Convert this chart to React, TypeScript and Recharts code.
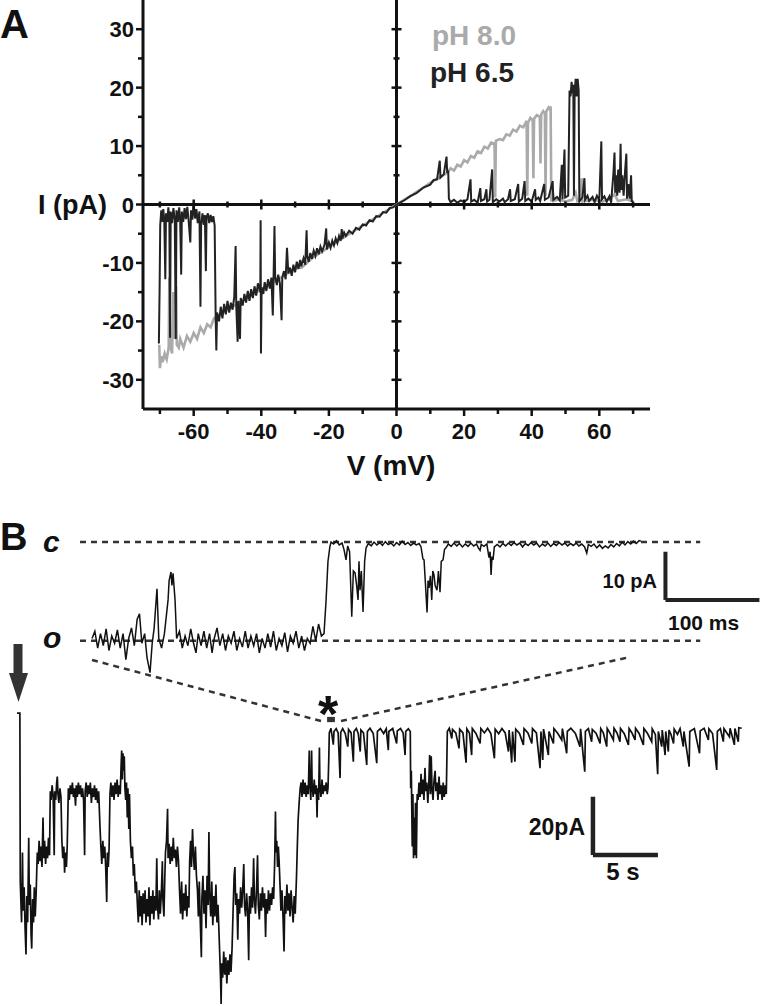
import { LineChart, Line, XAxis, YAxis, ReferenceLine, ReferenceDot, ReferenceArea } from "recharts";

const INK = "#111";
const GRAY = "#aaa";
const FONT = '"Liberation Sans", Arial, Helvetica, sans-serif';

// ---- panel A: I-V ramps (V in mV, I in pA) ----
const vTicks = [-70, -60, -50, -40, -30, -20, -10, 0, 10, 20, 30, 40, 50, 60, 70];
const vLabels = [-60, -40, -20, 0, 20, 40, 60];
const iTicks = [-30, -25, -20, -15, -10, -5, 0, 5, 10, 15, 20, 25, 30];
const iLabels = [-30, -20, -10, 0, 10, 20, 30];

const ph80: [number, number][] = [
  [-70.2, -24], [-70, -28], [-69.6, -26], [-69.2, -27], [-68.6, -25.5], [-68, -26.5], [-67.4, -24.5],
  [-67.2, -12.5], [-67, -24], [-66.4, -25.5], [-66, -15], [-65.8, -23], [-65.2, -14], [-65, -24],
  [-64.4, -24.5], [-64, -23], [-63, -24.5], [-62, -22.5], [-61, -23.5], [-60, -22], [-59, -23],
  [-58, -21], [-57, -22], [-56, -20.5], [-55, -21], [-54, -19.5], [-50, -18], [-45, -16.3],
  [-40, -14.5], [-35, -12.8], [-30, -11], [-28, -10.8], [-25, -9.2], [-20, -7.3], [-15, -5.4],
  [-10, -3.6], [-5, -1.8], [0, 0], [5, 1.8], [10, 3.7], [15, 5.4], [16, 6.2], [17, 5.8], [18, 6.8],
  [19, 6.5], [20, 7.6], [21, 7.2], [22, 8.3], [23, 8], [24, 9.1], [25, 8.8], [26, 9.9], [27, 9.6],
  [28, 10.6], [29, 10.4], [29.2, 1.2], [29.4, 10.9], [30.5, 11.2], [31.5, 11], [32.5, 12], [33.5, 11.8],
  [34.5, 12.8], [35.5, 12.5], [36.5, 13.5], [37.5, 13.2], [38.5, 14.3], [38.7, 1.5], [38.9, 14],
  [39.6, 14.8], [40.3, 14.4], [40.5, 4.5], [40.7, 14.7], [41.5, 15.3], [42.4, 15], [42.6, 7],
  [42.8, 15.4], [43.4, 16], [43.9, 15.6], [44.1, 1.5], [44.3, 15.9], [45, 16.6], [45.5, 16.2],
  [45.6, 16.8], [45.8, 0.5], [46.2, 2.2], [46.5, 0.6], [48, 0.9], [50, 0.5], [52, 0.8], [53, 2],
  [53.5, 0.6], [54.6, 1], [54.8, 4.5], [55, 0.5], [58, 0.8], [61, 0.5], [63, 0.9], [64.5, 1.8],
  [65.5, 0.6], [68, 0.9], [70, 0.5],
];

const ph65: [number, number][] = [
  [-70.3, -23.8], [-70.1, -15], [-69.9, -3.5], [-69.6, -1], [-69.3, -3], [-69, -0.8], [-68.7, -2.8],
  [-68.4, -12.8], [-68.2, -1.5], [-67.8, -3], [-67.5, -0.5], [-67.2, -2.5], [-67, -22.8], [-66.8, -1.2],
  [-66.4, -3.2], [-66, -0.6], [-65.6, -2.6], [-65.3, -23], [-65.1, -1], [-64.7, -3], [-64.3, -0.5],
  [-64, -2.8], [-63.7, -12], [-63.5, -1.2], [-63.1, -3], [-62.7, -0.6], [-62.3, -2.5], [-61.9, -0.4],
  [-61.5, -2.8], [-61, -6.5], [-60.8, -1], [-60.4, -2.6], [-60, 0.3], [-59.6, -2.4], [-59.2, -0.8],
  [-58.8, -3.2], [-58.3, -1.2], [-58, -17.5], [-57.8, -3.5], [-57.4, -1.5], [-57, -3.5], [-56.7, -1.8],
  [-56.4, -11.4], [-56.2, -2.2], [-55.8, -1.5], [-55.4, -3.2], [-55, -1.8], [-54.6, -3], [-54.2, -2],
  [-53.8, -3.6], [-53.5, -19.5], [-53.3, -25], [-53.1, -18.5], [-52.5, -20], [-52, -17.5],
  [-51.5, -19.5], [-51, -17], [-50.5, -18.8], [-50, -16.5], [-49.5, -18.5], [-49, -16.8], [-48.5, -18],
  [-48, -15.8], [-47.6, -7.1], [-47.4, -17.5], [-47, -23.5], [-46.8, -16.5], [-46.3, -23], [-46.1, -16],
  [-45.5, -17.3], [-45, -15.3], [-44.5, -16.8], [-44, -14.8], [-43.5, -16.5], [-43, -14.5], [-42.5, -16],
  [-42, -14], [-41.5, -15.6], [-41, -13.5], [-40.3, -15], [-40.2, -2.7], [-40.1, -25.5], [-39.9, -14.2],
  [-39.4, -15.3], [-39, -13.3], [-38.5, -14.8], [-38, -12.8], [-37.5, -14.4], [-37, -12.5], [-36.6, -19],
  [-36.4, -13.5], [-36.1, -3.7], [-35.9, -12.3], [-35.4, -13.8], [-35, -12], [-34.5, -13.5], [-34, -19.8],
  [-33.8, -12.5], [-33.3, -11.4], [-32.8, -12.8], [-32.4, -7.4], [-32, -11.8], [-31.5, -10.8],
  [-31, -12.2], [-30.5, -10.3], [-30, -11.6], [-29.5, -9.8], [-29, -11], [-28.5, -9.5], [-28.2, -10.6],
  [-27.5, -9.2], [-27, -10.3], [-26.6, -4.4], [-26.4, -8.8], [-26, -9.8], [-25.5, -8.3], [-25, -9.3],
  [-24.5, -7.9], [-24, -8.8], [-23.5, -7.5], [-23, -8.5], [-22.5, -7.2], [-22, -8], [-21.3, -6.9],
  [-20.8, -4.1], [-20.6, -7.7], [-20, -6.5], [-19.5, -7.4], [-19, -6.2], [-18.5, -7], [-18, -5.8],
  [-17.5, -6.6], [-17, -5.4], [-16.5, -6.2], [-16.2, -4.2], [-16, -5.8], [-15.5, -4.8], [-15, -5.4],
  [-14, -4.5], [-13, -5], [-12, -4], [-11, -4.3], [-10, -3.4], [-9, -3.6], [-8, -2.7], [-7, -2.9],
  [-6, -2], [-5, -2.1], [-4, -1.3], [-3, -1.4], [-2, -0.6], [-1, -0.5], [0, 0], [2, 0.6], [4, 1.4],
  [6, 2], [8, 2.9], [10, 3.4], [11, 4.2], [12, 4.3], [12.8, 7.5], [13, 4.6], [14, 5.2], [14.8, 8.2],
  [15, 5.4], [15.3, 5.8], [15.5, 1], [16, 0.4], [17, 0.8], [18, 0.3], [19, 0.7], [20, 0.4], [21, 0.9],
  [21.9, 4.3], [22.1, 0.5], [23, 0.8], [24, 0.3], [24.8, 2.8], [25, 0.6], [26, 0.9], [26.6, 2.6],
  [26.8, 0.5], [27.5, 0.8], [28.3, 6], [28.5, 0.4], [29.5, 0.9], [30.5, 0.5], [31.5, 1], [32, 0.4],
  [33, 0.9], [33.6, 2.6], [33.8, 0.6], [35, 0.9], [36, 3.5], [36.2, 0.5], [37.2, 1], [37.9, 4],
  [38.1, 0.6], [39, 1], [40, 0.5], [41, 2.6], [41.2, 0.8], [42, 1.2], [42.5, 0.6], [43.7, 3.5],
  [43.9, 0.8], [45, 1.2], [46.2, 4], [46.4, 0.8], [47.5, 1.3], [48.3, 0.7], [48.9, 6.8], [49.1, 0.9],
  [49.7, 9.4], [49.9, 1.2], [50.8, 1.5], [51.2, 19.5], [51.5, 18.5], [51.8, 21], [52.1, 19], [52.3, 20.5],
  [52.5, 1.5], [52.7, 19], [53, 21.5], [53.3, 18.5], [53.6, 21.5], [53.9, 19.5], [54.1, 0.5], [55, 1.2],
  [55.6, 4.5], [55.8, 0.8], [56.5, 1.5], [57, 0.6], [58, 1.3], [58.6, 0.4], [59.3, 1.5], [60, 0.7],
  [60.6, 10.8], [60.8, 0.9], [61.5, 1.4], [62.2, 0.5], [63, 1.4], [63.5, 0.3], [64.2, 5.5], [64.5, 8.9],
  [64.7, 2], [65, 5], [65.3, 1.5], [65.6, 6], [66, 2], [66.3, 10.4], [66.5, 2.5], [66.8, 5], [67.2, 1.5],
  [67.6, 5.5], [68, 8.7], [68.2, 1], [68.6, 3.5], [69, 1], [69.4, 5], [69.6, 0.6], [70, 0.5],
];

// ---- panel B: expanded sweep (t in ms, I in pA) ----
const closedLevel = 0;
const openLevel = -20.5;
const zoomTrace: [number, number][] = [
  [0, -20], [3, -18.5], [6, -22], [9, -19], [12, -21.5], [15, -18], [18, -22.5], [21, -19.5], [24, -21],
  [27, -18.2], [30, -22], [33, -19], [36, -24.4], [39, -20], [42, -17.8], [45, -21.5], [48, -16],
  [50.5, -14.9], [53, -21], [56, -19], [58.5, -24], [61.7, -27.1], [64, -21], [66, -18], [69.1, -9.7],
  [71, -20], [74, -22], [77, -19], [80.9, -12], [82, -8], [84, -6.2], [85, -9], [86.2, -6.5], [88.3, -12],
  [90, -20], [93, -18.5], [96, -22], [99, -19.5], [102, -21.5], [105, -18], [108, -21], [110.6, -23],
  [113, -19], [116, -21.5], [119, -18.5], [122, -22], [125, -19], [127.7, -23], [130, -20], [133, -17.8],
  [136, -21.5], [139, -19], [142, -22.5], [145, -19.5], [148, -21], [151, -18.5], [154, -22.5], [157, -20],
  [160, -21.8], [163, -18.5], [166, -22], [169, -19.5], [172, -21.5], [175, -19], [178, -23], [181, -20],
  [184, -22], [187, -19], [190, -21.8], [193, -18.5], [196, -22.5], [199, -20], [202, -21.5], [205, -18.8],
  [208, -22.8], [211, -19.5], [214, -21], [217, -18.5], [220, -22], [223, -19.5], [226, -22.5], [229, -20],
  [232, -21], [235, -17.5], [238, -20.5], [241, -17], [244, -19.5], [246.8, -19], [249, -12], [251, -4],
  [253, -1], [254.3, 0], [257, -0.4], [260, 0.3], [263, -0.6], [266, -0.2], [268, -1.5], [270.2, -3.7],
  [272, -0.8], [274, -2], [276.3, -15.5], [278, -6], [279.8, -6.4], [281.5, -9], [283, -12], [284, -4],
  [285.1, -10], [286.5, -6], [288.3, -14.5], [290, -4], [291.5, -1.2], [294, -0.3], [297, -0.8], [300, 0],
  [303, -0.6], [306, -0.1], [309, -0.7], [312, 0.1], [315, -0.5], [318, -0.2], [321, -0.8], [324, -0.1],
  [327, -0.6], [330, 0.2], [333, -0.5], [336, -0.1], [339, -0.7], [342, -0.2], [345, -0.6], [348, -0.3],
  [350, -1], [352, -3.5], [353.2, -3.7], [354.5, -8], [356.4, -14.6], [357.5, -8], [358.5, -9.5], [360, -7],
  [361.4, -12], [362.5, -6], [363.8, -6.8], [365, -9], [367, -10], [368.5, -6], [370.2, -10.4],
  [371.5, -4], [373.4, -3.7], [375, -1.5], [376.6, -1.2], [379, -0.4], [382, -0.9], [385, -0.2],
  [388, -0.8], [391, -0.3], [394, -1], [397, -0.4], [400, -0.9], [403, -0.2], [406, -0.8], [409, -0.4],
  [411, -1.2], [412.8, -1.7], [414, -0.5], [417, -0.9], [420, -0.4], [422.3, -3.2], [423.5, -2],
  [424.5, -6.8], [425.5, -3], [426.6, -3.7], [428, -1], [431, -0.5], [434, -1], [437, -0.3], [440, -0.8],
  [443, -0.2], [446, -0.7], [449, -0.1], [452, -0.6], [455, -0.2], [458, -1], [461, -0.3], [464, -0.7],
  [467, -0.1], [470, -0.6], [473, -0.2], [476, -1], [479, -0.4], [482, -0.8], [485, -0.2], [488, -0.9],
  [491, -0.3], [494, -0.7], [497, -0.1], [500, -0.6], [503, -0.2], [506, -0.8], [509, -0.3], [512, -0.7],
  [515, -0.2], [518, -0.8], [521, -0.4], [524, -1], [526.3, -2.3], [528, -0.5], [531, -0.9], [534, -0.4],
  [537, -1.2], [540, -0.6], [543, -1.3], [546, -0.8], [549, -1.2], [552, -0.5], [555, -1], [558, -0.3],
  [561, -0.8], [564, 0], [567, -0.6], [570, 0.1], [573, -0.4], [576, 0.2], [579, -0.3], [582, 0.3],
  [584, 0.2],
];

// ---- panel B: full record (t in s, I in pA) ----
const longTrace: [number, number][] = [
  [0, 5.8], [0.22, 5.8], [0.25, -52], [0.35, -66], [0.42, -42], [0.47, -62], [0.55, -54], [0.62, -68],
  [0.69, -77], [0.75, -57], [0.82, -66], [0.9, -37], [0.95, -60], [1.02, -53], [1.08, -70], [1.13, -75],
  [1.2, -58], [1.27, -66], [1.33, -54], [1.4, -64], [1.47, -56], [1.52, -48],
  [1.56, -42], [1.62, -46], [1.7, -38], [1.77, -45], [1.84, -40], [1.92, -47], [2, -30], [2.05, -44],
  [2.12, -38], [2.2, -46], [2.27, -40], [2.35, -44], [2.42, -37], [2.5, -43],
  [2.56, -21], [2.62, -24], [2.7, -19], [2.78, -23], [2.86, -43], [2.9, -21], [2.98, -24], [3.05, -18],
  [3.1, -16], [3.15, -22], [3.22, -25], [3.3, -20], [3.38, -23],
  [3.45, -38], [3.52, -44], [3.6, -40], [3.66, -49], [3.72, -42], [3.8, -47], [3.86, -40],
  [3.95, -20], [4.02, -24], [4.1, -19], [4.18, -22], [4.26, -18], [4.34, -23], [4.42, -20], [4.5, -26],
  [4.56, -19], [4.64, -23], [4.72, -18], [4.8, -22], [4.88, -19], [4.96, -23], [5.04, -20], [5.12, -24],
  [5.2, -43], [5.24, -21], [5.32, -18], [5.4, -23], [5.48, -19], [5.56, -22], [5.64, -18], [5.72, -25],
  [5.8, -20], [5.88, -23], [5.96, -19], [6.04, -24], [6.12, -20], [6.2, -25], [6.28, -21],
  [6.38, -33], [6.45, -40], [6.52, -46], [6.6, -38], [6.68, -44], [6.75, -40], [6.82, -47], [6.9, -59],
  [6.95, -42], [7.02, -47], [7.08, -41],
  [7.15, -22], [7.22, -18], [7.3, -23], [7.38, -19], [7.46, -24], [7.54, -18], [7.62, -22], [7.7, -17],
  [7.78, -23], [7.86, -19], [7.94, -22], [8, -13], [8.05, -7], [8.1, -17], [8.15, -8], [8.2, -14],
  [8.25, -9], [8.3, -20], [8.36, -24], [8.42, -18], [8.48, -30], [8.53, -20], [8.6, -34], [8.65, -22],
  [8.72, -38], [8.8, -44], [8.88, -40], [8.95, -50], [9.02, -46], [9.1, -56], [9.18, -52],
  [9.26, -60], [9.33, -66], [9.4, -55], [9.48, -64], [9.55, -57], [9.62, -67], [9.7, -56], [9.78, -63],
  [9.85, -55], [9.92, -66], [10, -58], [10.08, -64], [10.15, -54], [10.22, -67], [10.3, -57], [10.38, -63],
  [10.45, -55], [10.52, -65], [10.6, -57], [10.68, -62], [10.75, -44], [10.8, -60], [10.88, -65],
  [10.95, -55], [11.02, -63], [11.1, -56], [11.18, -45], [11.22, -58], [11.3, -64], [11.36, -52],
  [11.42, -42], [11.5, -38], [11.58, -27], [11.62, -44], [11.7, -39], [11.78, -46], [11.86, -40],
  [11.94, -45], [12.02, -37], [12.1, -44], [12.18, -41], [12.26, -47], [12.34, -40], [12.42, -45],
  [12.5, -55], [12.58, -63], [12.66, -52], [12.74, -65], [12.82, -56], [12.9, -62], [12.98, -53],
  [13.06, -64], [13.14, -57], [13.22, -61],
  [13.28, -45], [13.35, -38], [13.42, -47], [13.5, -34], [13.56, -42], [13.64, -48], [13.72, -40], [13.8, -50],
  [13.88, -55], [13.95, -64], [14.02, -52], [14.1, -66], [14.18, -78], [14.22, -58], [14.3, -50],
  [14.38, -63], [14.46, -55], [14.54, -68], [14.62, -50], [14.7, -60], [14.76, -35], [14.82, -56],
  [14.9, -64], [14.98, -52], [15.06, -67], [15.14, -57], [15.22, -64], [15.3, -53], [15.38, -66],
  [15.46, -60], [15.54, -70],
  [15.6, -78], [15.66, -86], [15.7, -94], [15.74, -80], [15.82, -85], [15.9, -76], [15.98, -84],
  [16.06, -78], [16.14, -87], [16.22, -79], [16.3, -84], [16.38, -77], [16.46, -83], [16.54, -75],
  [16.62, -62], [16.7, -50], [16.76, -47], [16.82, -60], [16.9, -56], [16.98, -72], [17.04, -58],
  [17.12, -63], [17.2, -54], [17.28, -61], [17.36, -55], [17.44, -46], [17.5, -60], [17.58, -64],
  [17.66, -56], [17.74, -62], [17.82, -79], [17.88, -57], [17.96, -63], [18.04, -54], [18.12, -61],
  [18.2, -44], [18.26, -58], [18.34, -63], [18.42, -55], [18.5, -43], [18.56, -60], [18.64, -65],
  [18.72, -56], [18.8, -62], [18.88, -54], [18.96, -61], [19.04, -56], [19.12, -71], [19.18, -58],
  [19.26, -63], [19.34, -55], [19.42, -62], [19.5, -56], [19.58, -60], [19.66, -54], [19.74, -58],
  [19.82, -45], [19.88, -28], [19.92, -42], [19.98, -38], [20.04, -47], [20.1, -40], [20.16, -45],
  [20.22, -52], [20.3, -62], [20.38, -55], [20.46, -64], [20.54, -76], [20.6, -57], [20.68, -63],
  [20.76, -53], [20.84, -62], [20.92, -56], [21, -64], [21.08, -55], [21.16, -61], [21.24, -66],
  [21.32, -57], [21.4, -63],
  [21.5, -50], [21.56, -40], [21.62, -31], [21.7, -25],
  [21.78, -20], [21.85, -18], [21.92, -23], [22, -17], [22.08, -22], [22.16, -18], [22.24, -23],
  [22.32, -19], [22.4, -22], [22.48, -7], [22.52, -18], [22.6, -24], [22.66, -7], [22.7, -19],
  [22.78, -23], [22.86, -17], [22.94, -22], [23.02, -19], [23.08, -30], [23.12, -20], [23.2, -24],
  [23.26, -6], [23.3, -19], [23.38, -23], [23.46, -17], [23.54, -22], [23.62, -19], [23.7, -21],
  [23.78, -18], [23.86, -22], [23.92, -20], [23.98, -10],
  [24.02, -1], [24.15, 0.6], [24.33, -5], [24.38, -0.5], [24.55, 0.5], [24.7, -1], [24.85, -16.5],
  [24.9, -0.8], [25.05, 0.5], [25.25, -1.2], [25.44, -5.7], [25.5, 0.2], [25.7, -1], [25.87, -10.9],
  [25.92, -0.5], [26.1, 0.5], [26.25, -1.3], [26.4, -7.4], [26.45, 0], [26.65, -1], [26.9, -12],
  [26.95, -0.5], [27.15, 0.6], [27.4, -1.2], [27.67, -11.4], [27.72, -0.5], [27.95, 0.5], [28.2, -1.2],
  [28.4, 0.4], [28.56, -6.9], [28.6, -0.5], [28.9, 0.5], [29.2, -4.6], [29.25, -0.3], [29.5, 0.5],
  [29.7, -1], [29.85, -8.6], [29.9, -0.5], [30.1, 0.4], [30.25, -0.5],
  [30.28, -20], [30.33, -14], [30.4, -40], [30.45, -22], [30.5, -44], [30.55, -30], [30.6, -43],
  [30.65, -25], [30.72, -44], [30.78, -22],
  [30.85, -24], [30.92, -18], [31, -23], [31.08, -15], [31.14, -22], [31.22, -17], [31.3, -24],
  [31.38, -13], [31.44, -21], [31.52, -18], [31.6, -25], [31.68, -18], [31.74, -8.6], [31.8, -22],
  [31.86, -9], [31.92, -20], [32, -24], [32.08, -17], [32.16, -14], [32.22, -21], [32.3, -18],
  [32.38, -24], [32.46, -16], [32.54, -22], [32.62, -19], [32.7, -24], [32.78, -18], [32.86, -23],
  [32.94, -19], [33.02, -22],
  [33.1, -0.5], [33.25, 0.6], [33.44, -2.9], [33.5, 0.2], [33.75, -1], [34, -6.3], [34.05, 0.3],
  [34.3, -1], [34.54, -11.2], [34.6, 0.4], [34.8, -1], [34.97, -8.6], [35.02, 0.5], [35.3, -1.2],
  [35.62, -4.6], [35.68, 0.5], [35.95, -1], [36.2, 0.6], [36.45, -1.2], [36.72, -9.7], [36.78, 0.3],
  [37.05, -1.3], [37.3, 0.5], [37.55, -1], [37.8, -7.4], [37.85, 0], [38.05, -11.2], [38.12, -0.5],
  [38.3, -10.9], [38.36, 0.3], [38.65, -1.2], [38.95, -5.1], [39, 0.5], [39.3, -1], [39.6, -4.6],
  [39.65, 0.5], [39.95, -1], [40.23, -13.1], [40.3, -0.5], [40.44, -10.3], [40.5, 0.3], [40.87, -8.6],
  [40.92, -0.5], [41.26, -4.6], [41.3, 0.5], [41.6, -1.2], [41.9, -3.4], [41.95, 0.5], [42.28, -8],
  [42.33, -0.5], [42.6, 0.6], [42.95, -1.2], [43.3, -5.7], [43.35, 0.4], [43.67, -14.3], [43.72, -0.5],
  [43.95, 0.5], [44.2, -4], [44.25, 0.2], [44.55, -1.2], [44.85, -4.6], [44.9, 0.5], [45.1, -1],
  [45.36, -5.7], [45.4, 0.5], [45.6, -1], [45.87, -3.4], [45.92, 0.6], [46.15, -1], [46.38, -4],
  [46.42, 0.5], [46.7, -1.2], [47.03, -5.1], [47.08, 0.5], [47.3, -1], [47.54, -3.4], [47.58, 0.6],
  [47.85, -1.2], [48.18, -5.1], [48.22, 0.5], [48.5, -1.2], [48.82, -4], [48.86, 0.4], [49.1, -1.5],
  [49.28, -15.2], [49.33, -0.5], [49.59, -5.7], [49.63, 0], [49.85, -8.6], [49.9, -0.5], [50.1, -7.4],
  [50.15, 0], [50.3, -1.5], [50.5, -4.6], [50.55, 0.3], [50.8, -1.5], [51, 0.5], [51.25, -5.7],
  [51.3, -0.5], [51.7, -12.6], [51.75, -0.5], [52.1, 0.5], [52.5, -8], [52.55, -0.3], [52.85, 0.6],
  [53.18, -3.4], [53.22, 0.4], [53.5, -1.2], [53.82, -13.7], [53.87, -0.5], [54.1, 0.5], [54.33, -4],
  [54.38, 0.5], [54.6, -1], [54.8, -2.3], [54.85, 0.6], [55.18, -5.1], [55.22, 0.5], [55.48, -4],
  [55.52, 0.8], [55.74, 0.6],
];

// expanded window marked on the long record (s)
const zoomWindow = [23.85, 24.45];

const toVI = (rows: [number, number][]) => rows.map(([v, i]) => ({ v, i }));
const toTI = (rows: [number, number][]) => rows.map(([t, i]) => ({ t, i }));

const VTick = (props: any) => {
  const { x, y, payload } = props;
  const major = vLabels.includes(payload.value);
  return (
    <g>
      <line x1={x} x2={x} y1={y} y2={y + (major ? 7 : 5)} stroke={INK} strokeWidth={2.5} />
      {major && (
        <text x={x} y={y + 30} textAnchor="middle" fontSize={22} fontWeight="bold" fill={INK}>
          {payload.value}
        </text>
      )}
    </g>
  );
};

const ITick = (props: any) => {
  const { x, y, payload } = props;
  const major = iLabels.includes(payload.value);
  return (
    <g>
      <line x1={x} x2={x - (major ? 7 : 5)} y1={y} y2={y} stroke={INK} strokeWidth={2.5} />
      {major && (
        <text x={x - 9} y={y + 8} textAnchor="end" fontSize={22} fontWeight="bold" fill={INK}>
          {payload.value}
        </text>
      )}
    </g>
  );
};

const crossTickV = (len: number) => (p: any) => (
  <line x1={p.cx} x2={p.cx} y1={p.cy - len} y2={p.cy + len} stroke={INK} strokeWidth={2.5} />
);
const crossTickH = (len: number) => (p: any) => (
  <line x1={p.cx - len} x2={p.cx + len} y1={p.cy} y2={p.cy} stroke={INK} strokeWidth={2.5} />
);

function IVPanel() {
  return (
    <LineChart width={760} height={480} margin={{ top: 0, right: 110, bottom: 41, left: 83 }}>
      <XAxis
        type="number"
        dataKey="v"
        domain={[-75, 75]}
        ticks={vTicks}
        interval={0}
        tickSize={0}
        tickMargin={0}
        tickLine={false}
        tick={VTick}
        axisLine={{ stroke: INK, strokeWidth: 3 }}
        height={30}
        allowDataOverflow
      />
      <YAxis
        type="number"
        domain={[-35, 35]}
        ticks={iTicks}
        interval={0}
        tickSize={0}
        tickMargin={0}
        tickLine={false}
        tick={ITick}
        axisLine={{ stroke: INK, strokeWidth: 3 }}
        width={60}
        allowDataOverflow
      />
      <ReferenceLine x={0} stroke={INK} strokeWidth={3} />
      <ReferenceLine y={0} stroke={INK} strokeWidth={3} />
      {vTicks.filter((v) => v !== 0).map((v) => (
        <ReferenceDot key={"h" + v} x={v} y={0} r={1} shape={crossTickV(vLabels.includes(v) ? 5 : 3)} />
      ))}
      {iTicks.filter((i) => i !== 0).map((i) => (
        <ReferenceDot key={"v" + i} x={0} y={i} r={1} shape={crossTickH(iLabels.includes(i) ? 5 : 3)} />
      ))}
      <Line data={toVI(ph80)} dataKey="i" stroke={GRAY} strokeWidth={2.6} dot={false} isAnimationActive={false} />
      <Line data={toVI(ph65)} dataKey="i" stroke="#222" strokeWidth={2} dot={false} isAnimationActive={false} />
    </LineChart>
  );
}

function ZoomPanel() {
  return (
    <LineChart width={760} height={200} margin={{ top: 18, right: 0, bottom: 23, left: 80 }}>
      <XAxis type="number" dataKey="t" domain={[-12.8, 710.6]} hide allowDataOverflow />
      <YAxis type="number" domain={[-28, 5]} hide allowDataOverflow />
      <ReferenceLine segment={[{ x: -12.8, y: closedLevel }, { x: 647, y: closedLevel }]} stroke="#333" strokeWidth={2.5} strokeDasharray="6 5" />
      <ReferenceLine segment={[{ x: -12.8, y: openLevel }, { x: 647, y: openLevel }]} stroke="#333" strokeWidth={2.5} strokeDasharray="6 5" />
      <Line data={toTI(zoomTrace)} dataKey="i" stroke={INK} strokeWidth={1.5} dot={false} isAnimationActive={false} />
      <ReferenceLine segment={[{ x: 610, y: -2 }, { x: 610, y: -12 }]} stroke="#222" strokeWidth={4} />
      <ReferenceLine segment={[{ x: 610, y: -12 }, { x: 710, y: -12 }]} stroke="#222" strokeWidth={4} />
    </LineChart>
  );
}

function LongPanel() {
  return (
    <LineChart width={760} height={316} margin={{ top: 10, right: 0, bottom: 0, left: 10 }}>
      <XAxis type="number" dataKey="t" domain={[-0.54, 57.15]} hide allowDataOverflow />
      <YAxis type="number" domain={[-94.7, 10.3]} hide allowDataOverflow />
      <Line data={toTI(longTrace)} dataKey="i" stroke={INK} strokeWidth={1.7} dot={false} isAnimationActive={false} />
      <ReferenceArea x1={zoomWindow[0]} x2={zoomWindow[1]} y1={2.7} y2={4.5} fill="#333" fillOpacity={1} stroke="none" />
      <ReferenceLine segment={[{ x: 44.3, y: -22.9 }, { x: 44.3, y: -42.9 }]} stroke="#222" strokeWidth={4.5} />
      <ReferenceLine segment={[{ x: 44.3, y: -42.9 }, { x: 49.3, y: -42.9 }]} stroke="#222" strokeWidth={4.5} />
    </LineChart>
  );
}

export default function App() {
  const bold = { fontWeight: "bold" as const, fill: INK };
  return (
    <div style={{ position: "absolute", left: 0, top: 0, width: 760, height: 1006, background: "#fff", fontFamily: FONT }}>
      <div style={{ position: "absolute", left: 0, top: 0 }}>
        <IVPanel />
      </div>
      <div style={{ position: "absolute", left: 0, top: 500 }}>
        <ZoomPanel />
      </div>
      <div style={{ position: "absolute", left: 0, top: 690 }}>
        <LongPanel />
      </div>
      <svg width={760} height={1006} style={{ position: "absolute", left: 0, top: 0, pointerEvents: "none" }}>
        <text x={0} y={38} fontSize={40} {...bold}>A</text>
        <text x={107} y={214} fontSize={27} textAnchor="end" {...bold}>I (pA)</text>
        <text x={391} y={475} fontSize={28} textAnchor="middle" {...bold}>V (mV)</text>
        <text x={432} y={45} fontSize={28} fontWeight="bold" fill={GRAY}>pH 8.0</text>
        <text x={430} y={82} fontSize={28} fontWeight="bold" fill="#222">pH 6.5</text>

        <text x={0} y={550} fontSize={38} {...bold}>B</text>
        <text x={43} y={552} fontSize={30} fontStyle="italic" {...bold}>c</text>
        <text x={43} y={648} fontSize={30} fontStyle="italic" {...bold}>o</text>
        <text x={657} y={588} fontSize={20} textAnchor="end" {...bold}>10 pA</text>
        <text x={668} y={630} fontSize={21} {...bold}>100 ms</text>

        <line x1={92} y1={660} x2={321} y2={721} stroke="#333" strokeWidth={2.5} strokeDasharray="6 5" />
        <line x1={341} y1={721} x2={630} y2={657} stroke="#333" strokeWidth={2.5} strokeDasharray="6 5" />
        <text x={328} y={732} fontSize={52} textAnchor="middle" {...bold}>*</text>

        <rect x={13.5} y={644} width={9} height={30} fill="#333" />
        <polygon points="9,673 28,673 18.5,702" fill="#333" />

        <text x={585} y={835} fontSize={23} textAnchor="end" {...bold}>20pA</text>
        <text x={623} y={880} fontSize={24} textAnchor="middle" {...bold}>5 s</text>
      </svg>
    </div>
  );
}
